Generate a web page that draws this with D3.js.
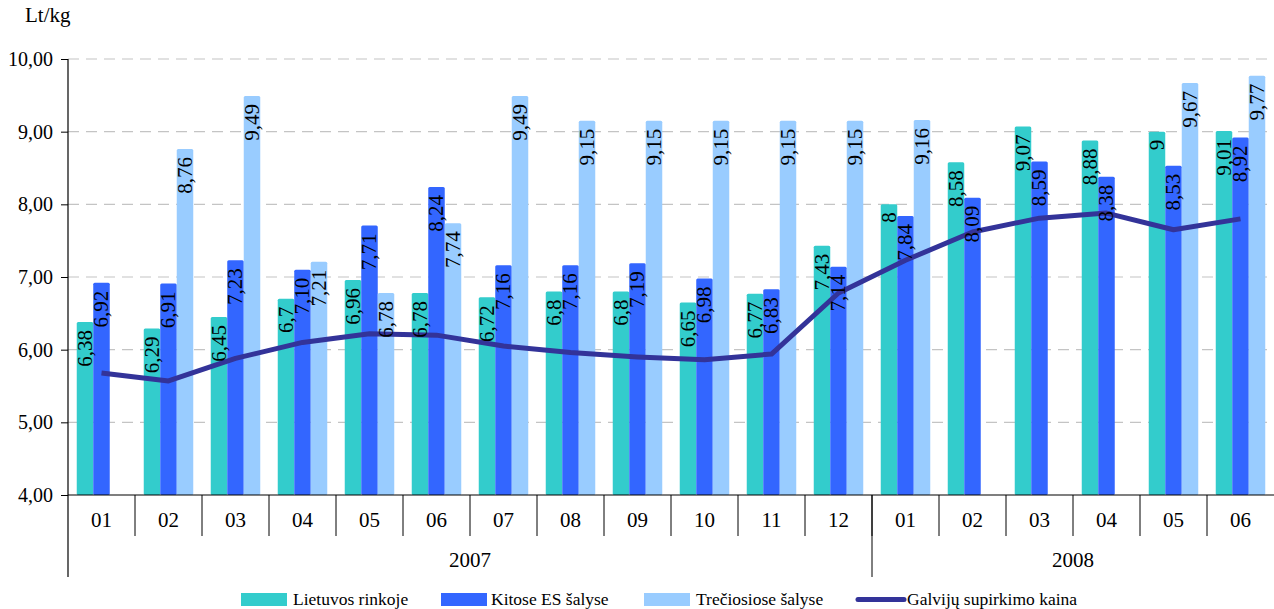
<!DOCTYPE html>
<html>
<head>
<meta charset="utf-8">
<script src="https://cdn.jsdelivr.net/npm/d3@7"></script>
<style>
  html, body { margin: 0; padding: 0; background: #fff; }
  svg { display: block; }
  svg text { font-family: "Liberation Serif", "Times New Roman", "DejaVu Serif", serif; }
</style>
</head>
<body>
<svg id="chart" width="1274" height="609"></svg>
<script>
// Months on the category axis (2007-01 … 2008-06)
const months = ["01","02","03","04","05","06","07","08","09","10","11","12","01","02","03","04","05","06"];
const yearLabels = ["2007", "2008"];
const yearMonthCounts = [12, 6];

// Prices, Lt/kg (written as printed in the value labels)
const lietuvos = ["6.38","6.29","6.45","6.7","6.96","6.78","6.72","6.8","6.8","6.65","6.77","7.43","8","8.58","9.07","8.88","9","9.01"];
const kitosES = ["6.92","6.91","7.23","7.10","7.71","8.24","7.16","7.16","7.19","6.98","6.83","7.14","7.84","8.09","8.59","8.38","8.53","8.92"];
const treciosios = [null,"8.76","9.49","7.21","6.78","7.74","9.49","9.15","9.15","9.15","9.15","9.15","9.16",null,null,null,"9.67","9.77"];
// Cattle purchase price (line)
const supirkimo = [5.68,5.57,5.88,6.10,6.22,6.20,6.05,5.96,5.90,5.86,5.94,6.78,7.23,7.62,7.81,7.88,7.65,7.80];

const seriesNames = ["Lietuvos rinkoje", "Kitose ES šalyse", "Trečiosiose šalyse"];
const lineName = "Galvijų supirkimo kaina";
const yTicks = [4, 5, 6, 7, 8, 9, 10];

const colors = ["#33CCCC", "#3366FF", "#99CCFF"];
const lineColor = "#333399";
const FONT = "Liberation Serif";

const svg = d3.select("#chart").attr("font-family", FONT);
const plotLeft = 68, plotRight = 1274, plotTop = 59, plotBottom = 495;

const x = d3.scaleBand().domain(d3.range(months.length)).range([plotLeft, plotRight]).padding(0);
const xSub = d3.scaleBand().domain([0, 1, 2]).range([0, x.bandwidth()]).paddingInner(0).paddingOuter(0.53);
const y = d3.scaleLinear().domain([4, 10]).range([plotBottom, plotTop]);

const fmt = s => s.replace(".", ",");

// Horizontal dashed gridlines
svg.append("g").selectAll("line")
  .data(yTicks.filter(t => t > 4))
  .join("line")
  .attr("x1", plotLeft).attr("x2", plotRight)
  .attr("y1", d => y(d)).attr("y2", d => y(d))
  .attr("stroke", "#c4c4c4").attr("stroke-width", 1.2)
  .attr("stroke-dasharray", "11,7");

// Y axis
const yAxis = d3.axisLeft(y).tickValues(yTicks).tickSize(7).tickPadding(8)
  .tickFormat(d => d3.format(".2f")(d).replace(".", ","));
const gy = svg.append("g").attr("transform", `translate(${plotLeft},0)`).call(yAxis);
gy.attr("font-family", FONT).attr("font-size", 20);
gy.select(".domain").remove();
gy.selectAll(".tick line").attr("stroke", "#000");
gy.selectAll(".tick text").attr("fill", "#000");

svg.append("text").attr("x", 25).attr("y", 22).attr("font-size", 21).text("Lt/kg");

// Bars
const series = [lietuvos, kitosES, treciosios];
const barData = [];
series.forEach((arr, s) => arr.forEach((v, i) => { if (v !== null) barData.push({ s, i, v }); }));

svg.append("g").selectAll("rect")
  .data(barData)
  .join("rect")
  .attr("x", d => x(d.i) + xSub(d.s))
  .attr("width", xSub.bandwidth())
  .attr("y", d => y(+d.v))
  .attr("height", d => plotBottom - y(+d.v))
  .attr("rx", 1.5)
  .attr("fill", d => colors[d.s]);

// Line series
const line = d3.line()
  .x((d, i) => x(i) + xSub(1) + xSub.bandwidth() / 2)
  .y(d => y(d));
svg.append("path")
  .datum(supirkimo)
  .attr("d", line)
  .attr("fill", "none")
  .attr("stroke", lineColor)
  .attr("stroke-width", 5)
  .attr("stroke-linejoin", "round");

// Value labels, rotated, inside the bar tops
svg.append("g").selectAll("text")
  .data(barData)
  .join("text")
  .each(function (d) {
    const cx = x(d.i) + xSub(d.s) + xSub.bandwidth() / 2;
    const cy = y(+d.v) + 8;
    d3.select(this)
      .attr("x", cx).attr("y", cy)
      .attr("transform", `rotate(-90,${cx},${cy})`);
  })
  .attr("text-anchor", "end")
  .attr("dominant-baseline", "central")
  .attr("font-size", 21)
  .attr("fill", "#000")
  .text(d => fmt(d.v));

// X axis line and category separators
svg.append("line").attr("x1", plotLeft).attr("x2", plotRight).attr("y1", plotBottom).attr("y2", plotBottom)
  .attr("stroke", "#000").attr("stroke-width", 1.2);
svg.append("line").attr("x1", plotLeft).attr("x2", plotLeft).attr("y1", plotTop).attr("y2", 577)
  .attr("stroke", "#000").attr("stroke-width", 1.2);

svg.append("g").selectAll("line")
  .data(d3.range(1, months.length))
  .join("line")
  .attr("x1", i => x(i)).attr("x2", i => x(i))
  .attr("y1", plotBottom).attr("y2", 536)
  .attr("stroke", "#000").attr("stroke-width", 1);

svg.append("g").selectAll("text")
  .data(months)
  .join("text")
  .attr("x", (d, i) => x(i) + x.bandwidth() / 2)
  .attr("y", 527)
  .attr("text-anchor", "middle")
  .attr("font-size", 21)
  .text(d => d);

// Year groups
let start = 0;
yearLabels.forEach((label, k) => {
  const end = start + yearMonthCounts[k];
  const x0 = x(start), x1 = end < months.length ? x(end) : plotRight;
  if (end < months.length) {
    svg.append("line").attr("x1", x1).attr("x2", x1).attr("y1", plotBottom).attr("y2", 577)
      .attr("stroke", "#000").attr("stroke-width", 1);
  }
  svg.append("text").attr("x", (x0 + x1) / 2).attr("y", 567)
    .attr("text-anchor", "middle").attr("font-size", 21).text(label);
  start = end;
});

// Legend
const legend = svg.append("g");
const legendItems = [
  { name: seriesNames[0], color: colors[0], sx: 241, tx: 293 },
  { name: seriesNames[1], color: colors[1], sx: 441, tx: 491 },
  { name: seriesNames[2], color: colors[2], sx: 644, tx: 696 },
];
legendItems.forEach(it => {
  legend.append("rect").attr("x", it.sx).attr("y", 593).attr("width", 46).attr("height", 13).attr("fill", it.color);
  legend.append("text").attr("x", it.tx).attr("y", 605).attr("font-size", 17.5).text(it.name);
});
legend.append("line").attr("x1", 858).attr("x2", 904).attr("y1", 599.5).attr("y2", 599.5)
  .attr("stroke", lineColor).attr("stroke-width", 5).attr("stroke-linecap", "round");
legend.append("text").attr("x", 907).attr("y", 605).attr("font-size", 17.5).text(lineName);
</script>
</body>
</html>
